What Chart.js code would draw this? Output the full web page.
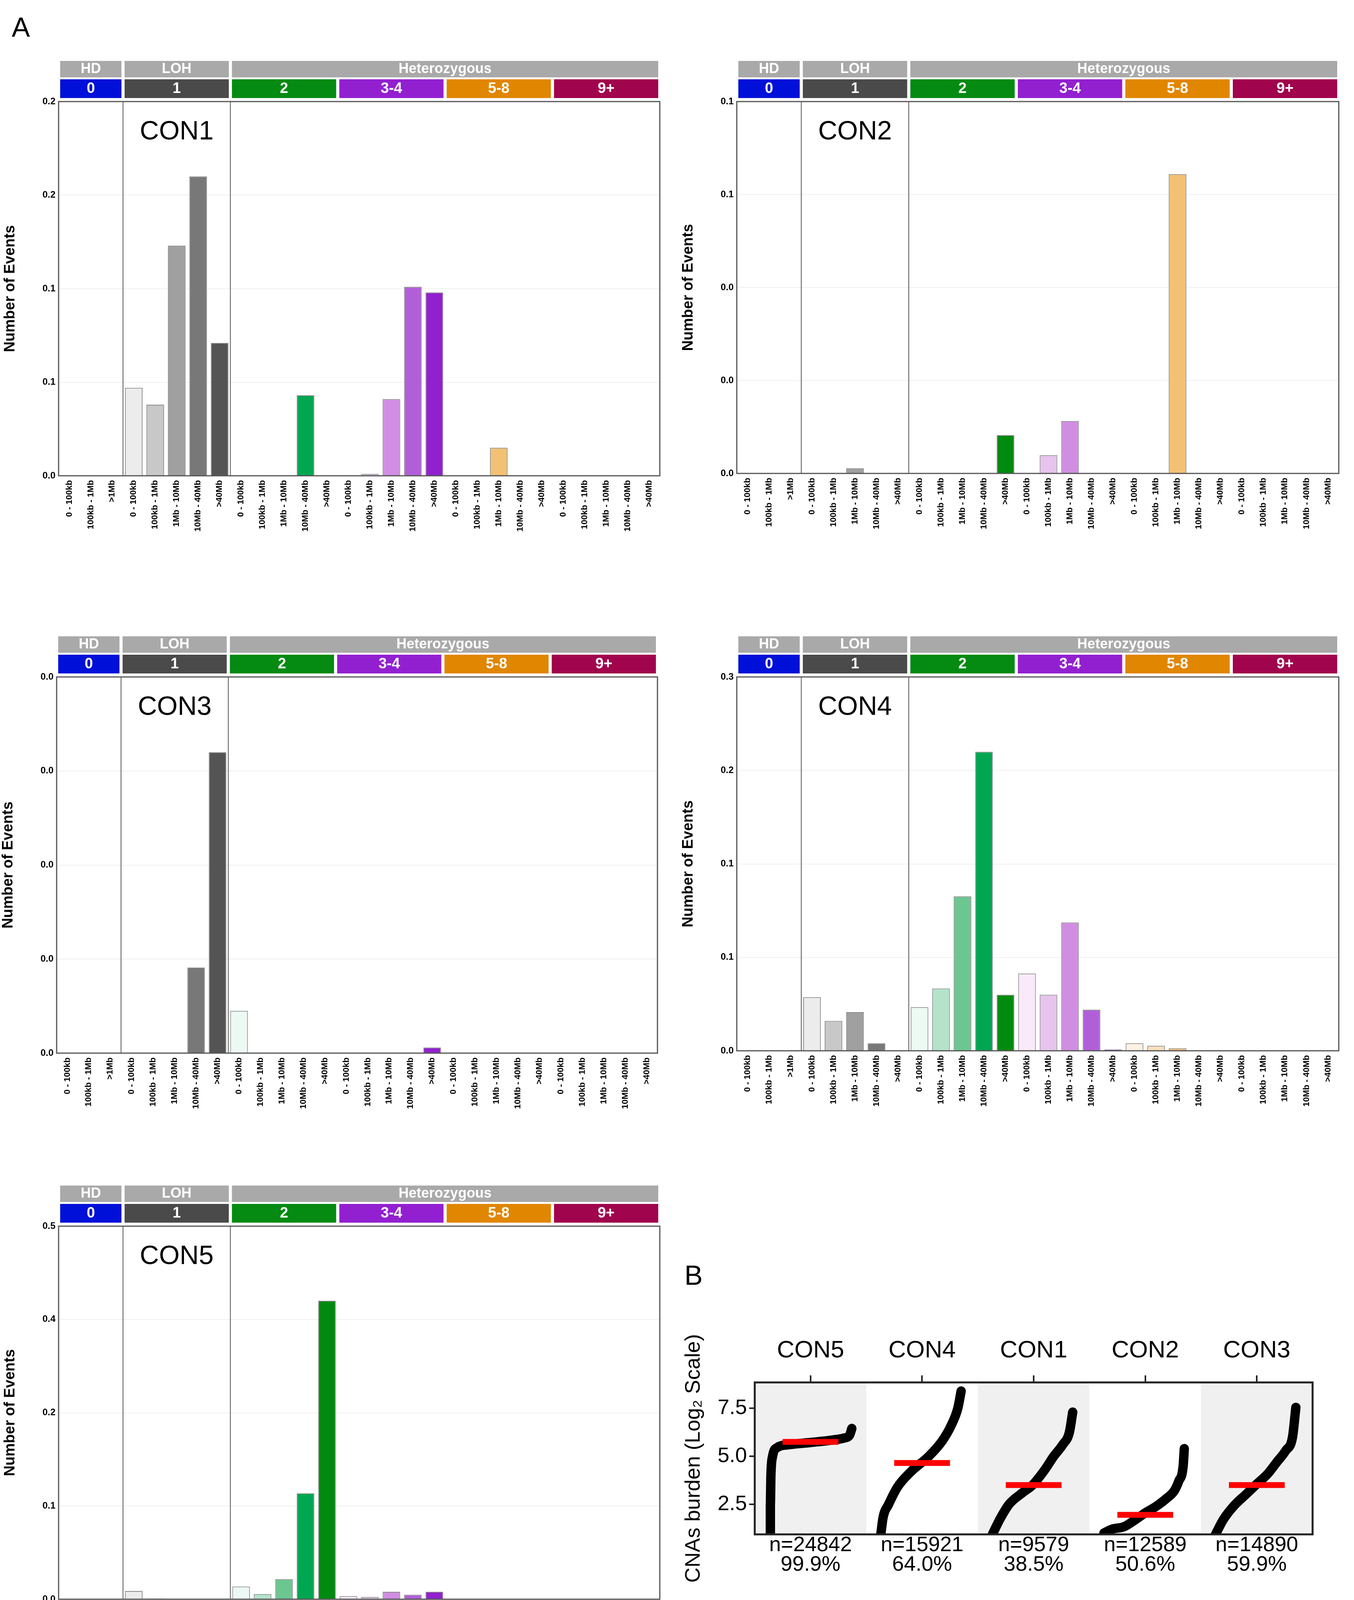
<!DOCTYPE html>
<html>
<head>
<meta charset="utf-8">
<script src="https://cdn.jsdelivr.net/npm/chart.js@4.4.0/dist/chart.umd.min.js"></script>
<style>
body{margin:0;background:#fff;width:3466px;height:4296px;position:relative;overflow:hidden;font-family:"Liberation Sans",Arial,sans-serif;}
.box{position:absolute;}
.letter{position:absolute;font-size:70px;color:#000;}
</style>
</head>
<body>
<div class="letter" style="left:30px;top:30px">A</div>
<div class="letter" style="left:1752px;top:3225px">B</div>

<div class="box" style="left:0px;top:150px;width:1700px;height:1258px"><canvas id="con1"></canvas></div>
<div class="box" style="left:1736px;top:150px;width:1702px;height:1252px"><canvas id="con2"></canvas></div>
<div class="box" style="left:-5px;top:1623px;width:1699px;height:1263px"><canvas id="con3"></canvas></div>
<div class="box" style="left:1736px;top:1623px;width:1702px;height:1257px"><canvas id="con4"></canvas></div>
<div class="box" style="left:0px;top:3029px;width:1700px;height:1255px"><canvas id="con5"></canvas></div>
<div class="box" style="left:1740px;top:3370px;width:1640px;height:740px"><canvas id="burden"></canvas></div>

<script>
document.addEventListener("DOMContentLoaded", function(){

// ================================
// DATA
// ================================

const sizeBins = [
'0 - 100kb','100kb - 1Mb','>1Mb',
'0 - 100kb','100kb - 1Mb','1Mb - 10Mb','10Mb - 40Mb','>40Mb',
'0 - 100kb','100kb - 1Mb','1Mb - 10Mb','10Mb - 40Mb','>40Mb',
'0 - 100kb','100kb - 1Mb','1Mb - 10Mb','10Mb - 40Mb','>40Mb',
'0 - 100kb','100kb - 1Mb','1Mb - 10Mb','10Mb - 40Mb','>40Mb',
'0 - 100kb','100kb - 1Mb','1Mb - 10Mb','10Mb - 40Mb','>40Mb'
];

const stateGroups = ['HD','LOH','Heterozygous'];
const cnGroups = ['0','1','2','3-4','5-8','9+'];

const con1Values = [0,0,0, 0.047,0.038,0.123,0.160,0.071, 0,0,0,0.043,0, 0,0.001,0.041,0.101,0.098, 0,0,0.015,0,0, 0,0,0,0,0];
const con2Values = [0,0,0, 0,0,0.0014,0,0, 0,0,0,0,0.0103, 0,0.0049,0.0141,0,0, 0,0,0.0805,0,0, 0,0,0,0,0];
const con3Values = [0,0,0, 0,0,0,0.0091,0.032, 0.0045,0,0,0,0, 0,0,0,0,0.0006, 0,0,0,0,0, 0,0,0,0,0];
const con4Values = [0,0,0, 0.043,0.024,0.031,0.006,0, 0.035,0.050,0.124,0.240,0.045, 0.062,0.045,0.103,0.033,0.001, 0.006,0.004,0.002,0,0, 0,0,0,0,0];
const con5Values = [0,0,0, 0.011,0.001,0,0,0, 0.017,0.007,0.027,0.142,0.400, 0.004,0.003,0.010,0.006,0.010, 0,0,0,0,0, 0,0,0,0,0];

const con1Ticks = ['0.0','0.1','0.1','0.2','0.2'];
const con2Ticks = ['0.0','0.0','0.0','0.1','0.1'];
const con3Ticks = ['0.0','0.0','0.0','0.0','0.0'];
const con4Ticks = ['0.0','0.1','0.1','0.2','0.3'];
const con5Ticks = ['0.0','0.1','0.2','0.4','0.5'];

// panel B: sorted burden curves, x = position inside column (0..1)
const burdenGroups = ['CON5','CON4','CON1','CON2','CON3'];
const burdenCounts = ['n=24842','n=15921','n=9579','n=12589','n=14890'];
const burdenPercent = ['99.9%','64.0%','38.5%','50.6%','59.9%'];
const burdenMedians = [5.75,4.65,3.5,1.95,3.5];

const con5CurveX = [0.14,0.14,0.145,0.16,0.2,0.3,0.5,0.7,0.8,0.85,0.87];
const con5CurveY = [1.0,2.5,4.0,5.0,5.45,5.6,5.72,5.85,5.95,6.1,6.45];
const con4CurveX = [0.13,0.15,0.2,0.28,0.4,0.56,0.68,0.76,0.82,0.85];
const con4CurveY = [0.93,1.8,2.5,3.4,4.2,5.0,5.8,6.6,7.5,8.4];
const con1CurveX = [0.13,0.2,0.28,0.4,0.49,0.6,0.68,0.76,0.82,0.85];
const con1CurveY = [0.93,1.75,2.5,3.1,3.5,4.3,5.0,5.6,6.25,7.3];
const con2CurveX = [0.13,0.2,0.31,0.4,0.5,0.6,0.69,0.76,0.8,0.84,0.85];
const con2CurveY = [1.0,1.2,1.33,1.65,2.05,2.4,2.8,3.2,3.7,4.5,5.4];
const con3CurveX = [0.13,0.2,0.3,0.4,0.49,0.6,0.68,0.76,0.82,0.85];
const con3CurveY = [0.93,1.7,2.45,3.0,3.5,4.1,4.7,5.3,6.0,7.55];

// ================================
// STYLE
// ================================

const barColors = [
'#dddddd','#dddddd','#dddddd',
'#ececec','#c8c8c8','#a0a0a0','#787878','#545454',
'#ecfaf3','#b4e3c9','#6cc690','#00a651','#008a10',
'#f9e9f9','#e6c4ee','#d08ee2','#b15fd9','#9120cf',
'#fff2e3','#fadfbd','#f2c173','#e69b2b','#d98300',
'#fbe3ea','#eeaac0','#d46a8e','#b8305d','#a0064a'
];
const cnColors = ['#0010d8','#4a4a4a','#058a12','#9220d0','#e18600','#a0044c'];
const narrow = '"Liberation Sans Narrow","Liberation Sans",Arial,sans-serif';

// header strips, frame and separators
const profileDecor = {
id:'profileDecor',
afterDraw(chart){
const ctx = chart.ctx;
const a = chart.chartArea;
const xs = chart.scales.x;
const half = (xs.getPixelForValue(1) - xs.getPixelForValue(0)) / 2;
const edge = function(i){ return xs.getPixelForValue(i) - half; };
const groupsA = [[0,3],[3,8],[8,28]];
const groupsB = [[0,3],[3,8],[8,13],[13,18],[18,23],[23,28]];
ctx.save();
ctx.textAlign = 'center';
ctx.textBaseline = 'middle';
groupsA.forEach(function(g,i){
const x0 = edge(g[0]) + 4, x1 = edge(g[1]) - 4;
ctx.fillStyle = '#a9a9a9';
ctx.fillRect(x0, a.top - 104, x1 - x0, 42);
ctx.fillStyle = '#ffffff';
ctx.font = 'bold 36px ' + narrow;
ctx.fillText(stateGroups[i], (x0 + x1) / 2, a.top - 83);
});
groupsB.forEach(function(g,i){
const x0 = edge(g[0]) + 4, x1 = edge(g[1]) - 4;
ctx.fillStyle = cnColors[i];
ctx.fillRect(x0, a.top - 57, x1 - x0, 48);
ctx.fillStyle = '#ffffff';
ctx.font = 'bold 38px ' + narrow;
ctx.fillText(cnGroups[i], (x0 + x1) / 2, a.top - 32);
});
ctx.strokeStyle = '#555555';
ctx.lineWidth = 3;
ctx.strokeRect(a.left, a.top, a.right - a.left, a.bottom - a.top);
ctx.lineWidth = 2;
[3,8].forEach(function(i){
ctx.beginPath();
ctx.moveTo(edge(i), a.top);
ctx.lineTo(edge(i), a.bottom);
ctx.stroke();
});
ctx.fillStyle = '#000';
ctx.font = '68px "Liberation Sans",Arial,sans-serif';
ctx.fillText(chart.options.plugins.panelName, (edge(3) + edge(8)) / 2, a.top + 78);
ctx.restore();
}
};

function profile(id, name, values, max, tickLabels){
const el = document.getElementById(id);
if(!el) return;
new Chart(el,{
type:'bar',
data:{
labels:sizeBins,
datasets:[{
data:values,
backgroundColor:barColors,
borderColor:'#8a8a8a',
borderWidth:2,
borderSkipped:'bottom',
barPercentage:0.82,
categoryPercentage:1
}]
},
options:{
responsive:true,
maintainAspectRatio:false,
animation:false,
layout:{padding:{top:110,right:11}},
plugins:{legend:{display:false},tooltip:{enabled:false},panelName:name},
scales:{
x:{
grid:{display:false},
border:{display:false},
afterFit(s){ s.height = 190; },
ticks:{
autoSkip:false,
minRotation:90,
maxRotation:90,
color:'#000',
font:{family:'"Liberation Sans",Arial,sans-serif',size:22,weight:'bold'}
}
},
y:{
min:0,
max:max,
afterBuildTicks(s){ s.ticks = [0,1,2,3,4].map(function(i){ return {value:max * i / 4}; }); },
afterFit(s){ s.width = 150; },
grid:{color:'#f0f0f0',lineWidth:2,drawTicks:false},
border:{display:false},
ticks:{
padding:8,
color:'#000',
font:{family:narrow,size:24,weight:'bold'},
callback:function(v,i){ return tickLabels[i]; }
},
title:{
display:true,
text:'Number of Events',
color:'#000',
padding:{bottom:12},
font:{family:'"Liberation Sans",Arial,sans-serif',size:38,weight:'bold'}
}
}
}
},
plugins:[profileDecor]
});
}

profile('con1','CON1',con1Values,0.2,con1Ticks);
profile('con2','CON2',con2Values,0.1,con2Ticks);
profile('con3','CON3',con3Values,0.04,con3Ticks);
profile('con4','CON4',con4Values,0.3,con4Ticks);
profile('con5','CON5',con5Values,0.5,con5Ticks);

// ================================
// CNA BURDEN PANEL
// ================================

const curvesX = [con5CurveX,con4CurveX,con1CurveX,con2CurveX,con3CurveX];
const curvesY = [con5CurveY,con4CurveY,con1CurveY,con2CurveY,con3CurveY];

const burdenSets = [];
curvesX.forEach(function(xs,g){
burdenSets.push({
data:xs.map(function(x,i){ return {x:g + x, y:curvesY[g][i]}; }),
showLine:true,
borderColor:'#000',
borderWidth:24,
borderCapStyle:'round',
borderJoinStyle:'round',
cubicInterpolationMode:'monotone',
pointRadius:0,
order:2
});
});
burdenMedians.forEach(function(m,g){
burdenSets.push({
data:[{x:g + 0.25, y:m},{x:g + 0.75, y:m}],
showLine:true,
borderColor:'#ff0000',
borderWidth:15,
pointRadius:0,
order:1
});
});

const burdenDecor = {
id:'burdenDecor',
beforeDatasetsDraw(chart){
const ctx = chart.ctx, a = chart.chartArea, xs = chart.scales.x;
ctx.save();
[0,2,4].forEach(function(g){
const x0 = xs.getPixelForValue(g), x1 = xs.getPixelForValue(g + 1);
ctx.fillStyle = '#f0f0f0';
ctx.fillRect(x0, a.top, x1 - x0, a.bottom - a.top);
});
ctx.restore();
},
afterDraw(chart){
const ctx = chart.ctx, a = chart.chartArea, xs = chart.scales.x;
ctx.save();
ctx.strokeStyle = '#222';
ctx.lineWidth = 5;
ctx.strokeRect(a.left, a.top, a.right - a.left, a.bottom - a.top);
ctx.fillStyle = '#000';
ctx.textAlign = 'center';
ctx.textBaseline = 'middle';
ctx.font = '54px ' + narrow;
burdenCounts.forEach(function(t,g){
const x = xs.getPixelForValue(g + 0.5);
ctx.fillText(t, x, a.bottom + 28);
ctx.fillText(burdenPercent[g], x, a.bottom + 78);
});
ctx.restore();
}
};

const burden = document.getElementById('burden');

if(burden){
new Chart(burden,{
type:'scatter',
data:{datasets:burdenSets},
options:{
responsive:true,
maintainAspectRatio:false,
animation:false,
layout:{padding:{bottom:182,right:20}},
plugins:{legend:{display:false},tooltip:{enabled:false}},
scales:{
x:{
type:'linear',
position:'top',
min:0,
max:5,
afterBuildTicks(s){ s.ticks = [0,1,2,3,4].map(function(g){ return {value:g + 0.5}; }); },
afterFit(s){ s.height = 169; },
grid:{display:true,drawOnChartArea:false,tickLength:18,color:'#222',lineWidth:4},
border:{display:false},
ticks:{
padding:26,
color:'#000',
font:{family:narrow,size:62},
callback:function(v,i){ return burdenGroups[i]; }
}
},
y:{
min:0.93,
max:8.85,
afterBuildTicks(s){ s.ticks = [2.5,5.0,7.5].map(function(v){ return {value:v}; }); },
afterFit(s){ s.width = 192; },
grid:{display:true,drawOnChartArea:false,tickLength:14,color:'#222',lineWidth:4},
border:{display:false},
ticks:{
padding:6,
color:'#000',
font:{family:narrow,size:54},
callback:function(v){ return v.toFixed(1); }
},
title:{
display:true,
text:'CNAs burden (Log\u2082 Scale)',
color:'#000',
padding:{bottom:4},
font:{family:'"Liberation Sans",Arial,sans-serif',size:54}
}
}
}
},
plugins:[burdenDecor]
});
}

});
</script>
</body>
</html>
